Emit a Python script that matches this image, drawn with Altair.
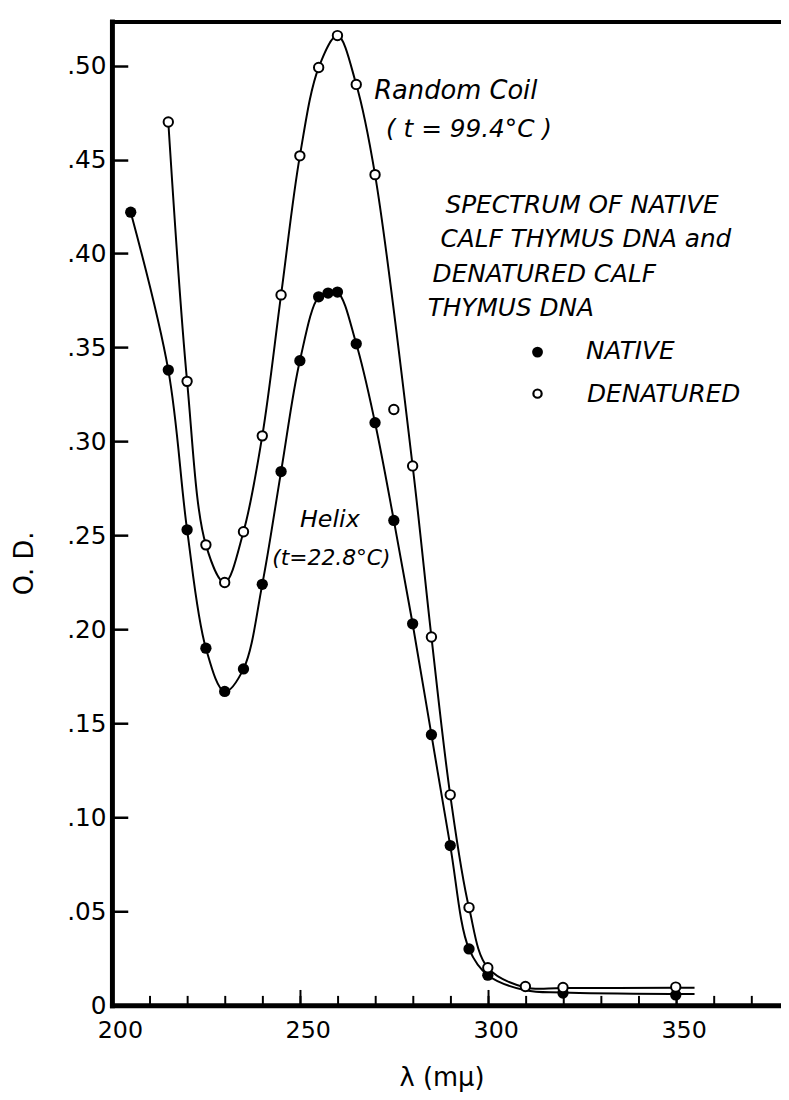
import altair as alt
import pandas as pd

# ---- data ----
native_wl = [205, 215, 220, 225, 230, 235, 240, 245, 250, 255, 257.5, 260, 265, 270,
             275, 280, 285, 290, 295, 300, 320, 350]
native_od = [0.422, 0.338, 0.253, 0.190, 0.167, 0.179, 0.224, 0.284, 0.343, 0.377, 0.379,
             0.3795, 0.352, 0.310, 0.258, 0.203, 0.144, 0.085, 0.030, 0.016, 0.0065, 0.0055]

denat_wl = [215, 220, 225, 230, 235, 240, 245, 250, 255, 260, 265, 270, 275, 280, 285,
            290, 295, 300, 310, 320, 350]
denat_od = [0.470, 0.332, 0.245, 0.225, 0.252, 0.303, 0.378, 0.452, 0.499, 0.516, 0.490,
            0.442, 0.317, 0.287, 0.196, 0.112, 0.052, 0.020, 0.010, 0.0095, 0.0097]

# hand-drawn smooth curves (the denatured curve does not pass through the 275 point)
native_curve_wl = [205, 215, 220, 225, 230, 235, 240, 245, 250, 255, 257.5, 260, 265, 270,
                   275, 280, 285, 290, 295, 300, 310, 320, 350, 355]
native_curve_od = [0.422, 0.338, 0.253, 0.190, 0.167, 0.179, 0.224, 0.284, 0.343, 0.377,
                   0.379, 0.3795, 0.352, 0.310, 0.258, 0.203, 0.144, 0.085, 0.030, 0.016,
                   0.008, 0.0068, 0.0060, 0.0060]
denat_curve_wl = [215, 220, 225, 230, 235, 240, 245, 250, 255, 260, 265, 270, 280, 285,
                  290, 295, 300, 310, 320, 350, 355]
denat_curve_od = [0.470, 0.332, 0.245, 0.225, 0.252, 0.303, 0.378, 0.452, 0.499, 0.516,
                  0.490, 0.442, 0.287, 0.196, 0.112, 0.052, 0.020, 0.0095, 0.0092, 0.0093,
                  0.0093]

x_label_values = [200, 250, 300, 350]
x_minor_values = [210, 220, 230, 240, 250, 260, 270, 280, 290, 300, 310, 320, 330, 340,
                  350, 360, 370]
x_major_values = [250, 300, 350]
y_tick_values = [0, 0.05, 0.10, 0.15, 0.20, 0.25, 0.30, 0.35, 0.40, 0.45, 0.50]

annotations = {
    "coil1": "Random  Coil",
    "coil2": "( t = 99.4°C )",
    "t1": "SPECTRUM OF NATIVE",
    "t2": "CALF THYMUS DNA  and",
    "t3": "DENATURED CALF",
    "t4": "THYMUS  DNA",
    "leg1": "NATIVE",
    "leg2": "DENATURED",
    "helix1": "Helix",
    "helix2": "(t=22.8°C)",
}

FONT = "DejaVu Sans"
W, H = 676, 994

native_pts = pd.DataFrame({"wl": native_wl, "od": native_od})
denat_pts = pd.DataFrame({"wl": denat_wl, "od": denat_od})
native_curve = pd.DataFrame({"wl": native_curve_wl, "od": native_curve_od})
denat_curve = pd.DataFrame({"wl": denat_curve_wl, "od": denat_curve_od})

xs = alt.Scale(domain=[200, 378], nice=False, zero=False)
ys = alt.Scale(domain=[0, 0.5235], nice=False, zero=False)

main_x = alt.Axis(orient="bottom", values=x_label_values, format="d",
                  labelFont=FONT, labelFontSize=24, labelColor="black",
                  labelPadding=14, labelOffset=8, labelFlush=False,
                  ticks=False, grid=False,
                  domain=True, domainColor="black", domainWidth=5, domainCap="square",
                  title="λ (mμ)", titleFont=FONT, titleFontSize=26,
                  titleFontWeight="normal", titleColor="black",
                  titleX=333, titleY=73, titleAlign="center", titleBaseline="middle")
main_y = alt.Axis(orient="left", values=y_tick_values,
                  labelExpr="datum.value == 0 ? '0' : replace(format(datum.value, '.2f'), '0.', '.')",
                  labelFont=FONT, labelFontSize=25, labelColor="black",
                  labelPadding=6, labelFlush=False,
                  ticks=False, grid=False,
                  domain=True, domainColor="black", domainWidth=5, domainCap="square",
                  title="O. D.", titleFont=FONT, titleFontSize=26,
                  titleFontWeight="normal", titleColor="black",
                  titleX=-88, titleY=547, titleAlign="center", titleBaseline="middle",
                  titleAngle=270)
minor_x = alt.Axis(orient="bottom", values=x_minor_values, offset=-10,
                   ticks=True, tickSize=10, tickWidth=2, tickColor="black",
                   labels=False, domain=False, grid=False, title=None)
major_x = alt.Axis(orient="bottom", values=x_major_values, offset=-16,
                   ticks=True, tickSize=16, tickWidth=2, tickColor="black",
                   labels=False, domain=False, grid=False, title=None)
tick_y = alt.Axis(orient="left", values=y_tick_values, offset=-16,
                  ticks=True, tickSize=16, tickWidth=2.5, tickColor="black",
                  labels=False, domain=False, grid=False, title=None)
top_frame = alt.Axis(orient="top", ticks=False, labels=False, grid=False, title=None,
                     domain=True, domainColor="black", domainWidth=4, domainCap="square")

native_line = alt.Chart(native_curve).mark_line(
    interpolate="catmull-rom", color="black", strokeWidth=2
).encode(
    x=alt.X("wl:Q", scale=xs, axis=main_x),
    y=alt.Y("od:Q", scale=ys, axis=main_y),
)
denat_line = alt.Chart(denat_curve).mark_line(
    interpolate="catmull-rom", color="black", strokeWidth=2
).encode(
    x=alt.X("wl:Q", scale=xs, axis=top_frame),
    y=alt.Y("od:Q", scale=ys, axis=None),
)
native_marks = alt.Chart(native_pts).mark_circle(
    color="black", opacity=1, size=130
).encode(
    x=alt.X("wl:Q", scale=xs, axis=minor_x),
    y=alt.Y("od:Q", scale=ys, axis=tick_y),
)
denat_marks = alt.Chart(denat_pts).mark_point(
    shape="circle", filled=True, fill="white", stroke="black", strokeWidth=2,
    opacity=1, size=90
).encode(
    x=alt.X("wl:Q", scale=xs, axis=major_x),
    y=alt.Y("od:Q", scale=ys, axis=None),
)

one = pd.DataFrame({"k": [0]})


def label(key, px, py, size):
    return alt.Chart(one).mark_text(
        text=annotations[key], font=FONT, fontSize=size, fontStyle="italic",
        align="left", baseline="middle", color="black"
    ).encode(x=alt.value(px), y=alt.value(py))


texts = [
    label("coil1", 265, 70, 26),
    label("coil2", 277, 109, 25),
    label("t1", 337, 185, 25),
    label("t2", 332, 220, 25),
    label("t3", 324, 255, 25),
    label("t4", 319, 290, 25),
    label("leg1", 479, 333, 25),
    label("leg2", 480, 376, 25),
    label("helix1", 190, 504, 24),
    label("helix2", 162, 542, 22),
]
leg_native = alt.Chart(one).mark_circle(color="black", opacity=1, size=120).encode(
    x=alt.value(430), y=alt.value(334))
leg_denat = alt.Chart(one).mark_point(
    shape="circle", filled=True, fill="white", stroke="black", strokeWidth=2.2,
    opacity=1, size=70).encode(x=alt.value(430), y=alt.value(376))

chart = alt.layer(
    native_line, denat_line, native_marks, denat_marks, leg_native, leg_denat, *texts
).resolve_axis(
    x="independent", y="independent"
).properties(
    width=W, height=H,
    autosize=alt.AutoSizeParams(type="none"),
    padding={"left": 105, "top": 8, "right": 0, "bottom": 84},
    background="white",
).configure_view(stroke=None)

chart.save("out.html", embed_options={"renderer": "svg", "actions": False})
